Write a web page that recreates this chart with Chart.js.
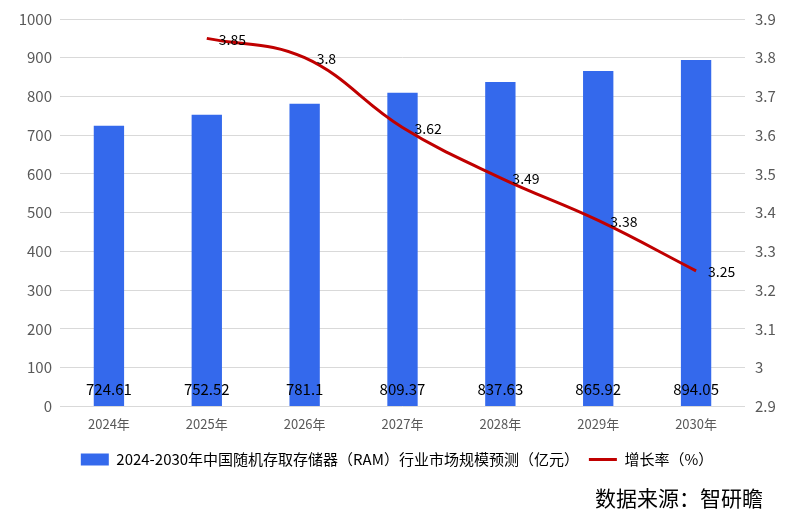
<!DOCTYPE html>
<html>
<head>
<meta charset="utf-8">
<script src="https://cdn.jsdelivr.net/npm/chart.js@4/dist/chart.umd.min.js"></script>
<style>
  html, body { margin: 0; padding: 0; background: #fff; }
  #wrap { width: 794px; height: 525px; position: relative; }
</style>
</head>
<body>
<div id="wrap"><canvas id="chart"></canvas></div>
<script>
const years = ['2024年', '2025年', '2026年', '2027年', '2028年', '2029年', '2030年'];
const marketSize = [724.61, 752.52, 781.1, 809.37, 837.63, 865.92, 894.05];
const growthRate = [null, 3.85, 3.8, 3.62, 3.49, 3.38, 3.25];
const leftTicks = [0, 1000, 100];
const rightTicks = [2.9, 3.9, 0.1];

const FONT = '"Noto Sans CJK SC", "Noto Sans", sans-serif';

// value labels: bar values near the bottom, line values to the right of points
const labelPlugin = {
  id: 'labels',
  afterDatasetsDraw(chart) {
    const ctx = chart.ctx;
    ctx.save();
    ctx.fillStyle = '#000';
    ctx.textBaseline = 'middle';

    const barMeta = chart.getDatasetMeta(0);
    const y = chart.scales.y;
    ctx.font = '15px ' + FONT;
    ctx.textAlign = 'center';
    barMeta.data.forEach((bar, i) => {
      ctx.fillText(marketSize[i], bar.x, y.getPixelForValue(45));
    });

    const lineMeta = chart.getDatasetMeta(1);
    ctx.font = '14px ' + FONT;
    ctx.textAlign = 'left';
    lineMeta.data.forEach((pt, i) => {
      if (growthRate[i] == null) return;
      ctx.fillText(growthRate[i], pt.x + 12, pt.y + 1);
    });

    // source note
    ctx.font = '21px ' + FONT;
    ctx.textAlign = 'right';
    ctx.fillText('数据来源：智研瞻', 763, 498);
    ctx.restore();
  }
};

const ctx = document.getElementById('chart').getContext('2d');
new Chart(ctx, {
  type: 'bar',
  data: {
    labels: years,
    datasets: [
      {
        label: '2024-2030年中国随机存取存储器（RAM）行业市场规模预测（亿元）',
        data: marketSize,
        backgroundColor: '#3469ec',
        borderWidth: 0,
        barPercentage: 0.31,
        categoryPercentage: 1,
        yAxisID: 'y',
        order: 2,
        pointStyle: 'rect',
      },
      {
        type: 'line',
        label: '增长率（%）',
        data: growthRate,
        borderColor: '#c00000',
        backgroundColor: '#c00000',
        borderWidth: 3,
        tension: 0.4,
        pointRadius: 0,
        yAxisID: 'y1',
        order: 1,
        pointStyle: 'line',
      },
    ],
  },
  options: {
    responsive: true,
    maintainAspectRatio: false,
    animation: false,
    layout: { padding: { left: 0, right: 0, top: 15, bottom: 48 } },
    plugins: {
      legend: {
        position: 'bottom',
        labels: {
          usePointStyle: true,
          pointStyleWidth: 28,
          boxHeight: 12,
          padding: 10,
          color: '#000',
          font: { size: 15, family: FONT },
          sort: (a, b) => a.datasetIndex - b.datasetIndex,
        },
      },
      tooltip: { enabled: false },
    },
    scales: {
      x: {
        grid: { display: false, drawTicks: false },
        border: { display: false },
        ticks: { color: '#595959', font: { size: 13, family: FONT }, padding: 10 },
      },
      y: {
        position: 'left',
        min: leftTicks[0],
        max: leftTicks[1],
        afterFit: s => { s.width = 60; },
        ticks: {
          stepSize: leftTicks[2],
          color: '#595959',
          font: { size: 15, family: FONT },
          padding: 8,
          callback: v => String(v),
        },
        grid: { color: '#d9d9d9', drawTicks: false },
        border: { display: false },
      },
      y1: {
        position: 'right',
        min: rightTicks[0],
        max: rightTicks[1],
        afterFit: s => { s.width = 49; },
        ticks: {
          stepSize: rightTicks[2],
          color: '#595959',
          font: { size: 15, family: FONT },
          padding: 10,
          callback: v => String(+v.toFixed(1)),
        },
        grid: { display: false, drawTicks: false },
        border: { display: false },
      },
    },
  },
  plugins: [labelPlugin],
});
</script>
</body>
</html>
